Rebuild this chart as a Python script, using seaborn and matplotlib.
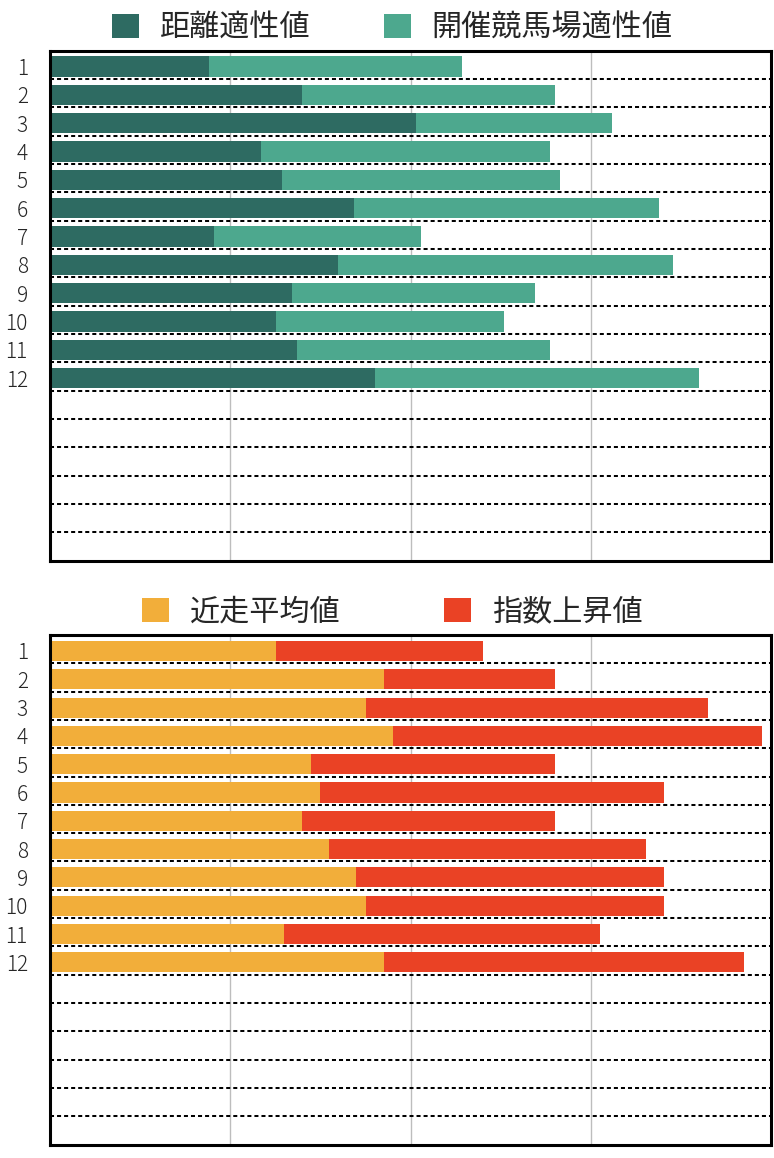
import matplotlib
matplotlib.use("Agg")
import matplotlib.pyplot as plt
from matplotlib.patches import Patch
import seaborn as sns
import numpy as np
import pandas as pd

sns.set_theme(style="white")
plt.rcParams['font.family'] = ['Noto Sans CJK JP', 'DejaVu Sans']

# ---- data ----
labels = [str(i) for i in range(1, 13)]
n_rows = 18

top_names = ["距離適性値", "開催競馬場適性値"]
dist_vals = [22.1, 35.0, 50.8, 29.3, 32.2, 42.2, 22.8, 40.0, 33.6, 31.4, 34.3, 45.1]
course_vals = [35.0, 35.0, 27.1, 40.0, 38.5, 42.2, 28.7, 46.4, 33.6, 31.5, 35.0, 44.9]

bot_names = ["近走平均値", "指数上昇値"]
recent_vals = [31.3, 46.3, 43.8, 47.6, 36.2, 37.5, 35.0, 38.7, 42.5, 43.8, 32.5, 46.3]
rise_vals = [28.7, 23.7, 47.5, 51.2, 33.8, 47.6, 35.0, 43.9, 42.6, 41.3, 43.8, 50.0]

top_colors = ["#2e6b62", "#4da88e"]
bot_colors = ["#f2ae3a", "#ea4225"]

W, H = 774, 1158
fig = plt.figure(figsize=(W / 100, H / 100), dpi=100)
OFF = 0.065


def panel(rect, first, second, names, colors, legend_y, colspace):
    ax = fig.add_axes(rect)
    df = pd.DataFrame({"label": labels, "a": first,
                       "total": np.array(first) + np.array(second)})
    sns.barplot(data=df, x="total", y="label", orient="h", color=colors[1],
                width=0.71, saturation=1, ax=ax, edgecolor="none")
    sns.barplot(data=df, x="a", y="label", orient="h", color=colors[0],
                width=0.71, saturation=1, ax=ax, edgecolor="none")
    ax.set_xlim(0, 100)
    ax.set_ylim(n_rows - 0.5 - OFF, -0.5 - OFF)
    ax.set_xlabel("")
    ax.set_ylabel("")
    ax.set_xticks([25, 50, 75])
    ax.set_xticklabels([])
    ax.tick_params(axis="x", length=0)
    ax.xaxis.grid(True, color="#bdbdbd", linewidth=1)
    ax.yaxis.grid(False)
    ax.set_axisbelow(True)
    for i in range(n_rows - 1):
        ax.axhline(i + 0.5 - OFF, color="black", linewidth=1.45,
                   linestyle=(0, (2, 1.5)), zorder=3)
    ax.tick_params(axis="y", length=0, pad=16, labelsize=15)
    for t in ax.get_yticklabels():
        t.set_fontweight("light")
    for s in ax.spines.values():
        s.set_visible(True)
        s.set_color("black")
        s.set_linewidth(2.2)
    handles = [Patch(facecolor=c, edgecolor="none") for c in colors]
    fig.legend(handles, names, loc="center", bbox_to_anchor=(392.5 / W, 1 - legend_y / H),
               ncol=2, frameon=False, fontsize=21.7, handlelength=0.88,
               handleheight=0.88, handletextpad=0.7, columnspacing=colspace,
               borderpad=0)
    return ax


panel([50 / W, 1 - 560.5 / H, 721 / W, 510 / H], dist_vals, course_vals,
      top_names, top_colors, 28, 2.45)
panel([50 / W, 1 - 1144.5 / H, 721 / W, 509.5 / H], recent_vals, rise_vals,
      bot_names, bot_colors, 612, 3.45)

fig.savefig("out.png", dpi=100)
